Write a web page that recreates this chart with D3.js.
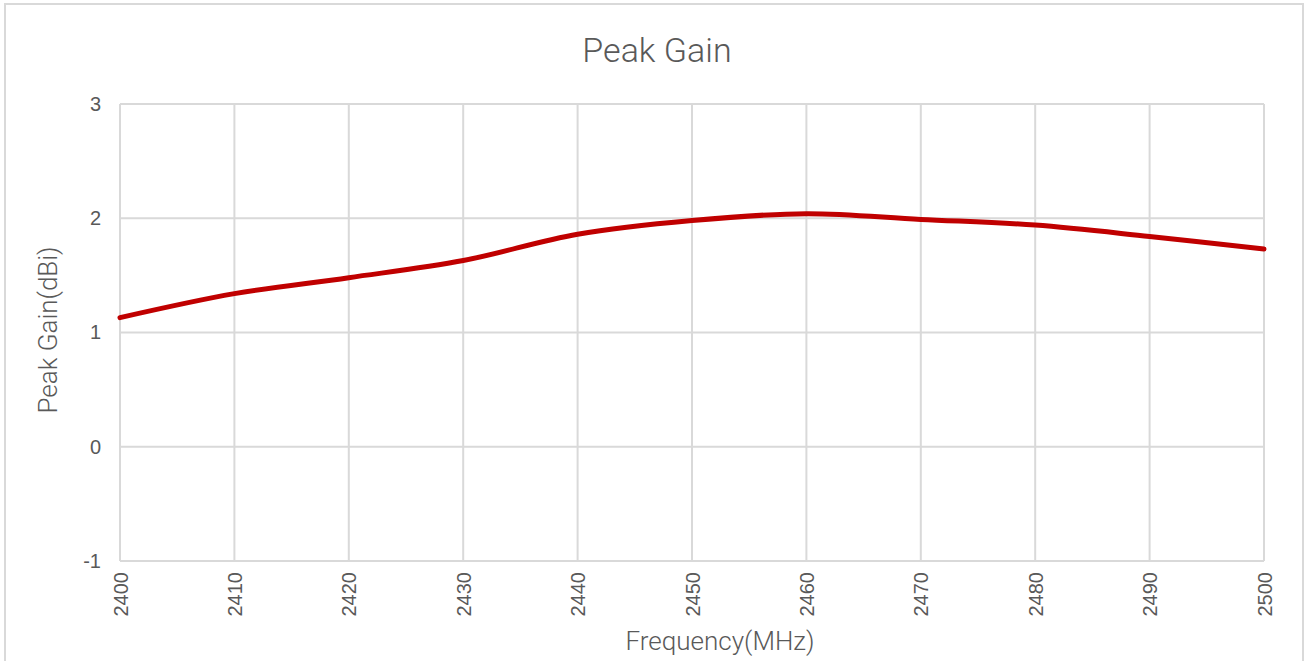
<!DOCTYPE html>
<html>
<head>
  <meta charset="utf-8">
  <title>Peak Gain</title>
  <script src="https://d3js.org/d3.v7.min.js"></script>
  <style>
    body { margin: 0; background: #ffffff; }
    svg { display: block; font-family: Roboto, 'Noto Sans', sans-serif; font-weight: 300; }
    .grid line { stroke: #d9d9d9; stroke-width: 2px; }
    .axis text { fill: #595959; font-size: 20px; }
    .axis path, .axis line { display: none; }
  </style>
</head>
<body>
  <div id="chart"></div>
  <script>
    // values
    const frequency = [2400, 2410, 2420, 2430, 2440, 2450, 2460, 2470, 2480, 2490, 2500];
    const gain = [1.13, 1.34, 1.48, 1.63, 1.86, 1.98, 2.04, 1.99, 1.94, 1.84, 1.73];
    const yTicks = [-1, 0, 1, 2, 3];

    const W = 1309, H = 661;
    const margin = { top: 104, right: 45, bottom: 100, left: 120 };
    const width = 1264 - margin.left;
    const height = 561 - margin.top;

    const svg = d3.select("#chart").append("svg")
      .attr("width", W)
      .attr("height", H);

    // chart border
    svg.append("rect")
      .attr("x", 5).attr("y", 4)
      .attr("width", 1298).attr("height", 680)
      .attr("fill", "#ffffff")
      .attr("stroke", "#d9d9d9")
      .attr("stroke-width", 2);

    const g = svg.append("g")
      .attr("transform", `translate(${margin.left}, ${margin.top})`);

    const x = d3.scaleLinear().domain([2400, 2500]).range([0, width]);
    const y = d3.scaleLinear().domain([-1, 3]).range([height, 0]);

    // gridlines
    const grid = g.append("g").attr("class", "grid");
    grid.selectAll(".h").data(yTicks).join("line")
      .attr("x1", 0).attr("x2", width)
      .attr("y1", d => y(d)).attr("y2", d => y(d));
    grid.selectAll(".v").data(frequency).join("line")
      .attr("x1", d => x(d)).attr("x2", d => x(d))
      .attr("y1", 0).attr("y2", height);

    // y axis
    g.append("g")
      .attr("class", "axis")
      .call(d3.axisLeft(y).tickValues(yTicks).tickSize(0).tickPadding(19).tickFormat(d => String(d)));

    // x axis, labels rotated
    g.append("g")
      .attr("class", "axis")
      .attr("transform", `translate(0, ${height})`)
      .call(d3.axisBottom(x).tickValues(frequency).tickSize(0).tickFormat(d => String(d)))
      .selectAll("text")
      .attr("transform", "rotate(-90)")
      .attr("x", -11)
      .attr("y", 0)
      .attr("dy", "0.35em")
      .style("text-anchor", "end");

    // line
    const line = d3.line()
      .x((d, i) => x(frequency[i]))
      .y(d => y(d))
      .curve(d3.curveCatmullRom.alpha(0.5));

    g.append("path")
      .datum(gain)
      .attr("fill", "none")
      .attr("stroke", "#c00000")
      .attr("stroke-width", 5)
      .attr("stroke-linecap", "round")
      .attr("d", line);

    // title
    svg.append("text")
      .attr("x", 657).attr("y", 62)
      .attr("text-anchor", "middle")
      .attr("fill", "#595959")
      .style("font-size", "34px")
      .text("Peak Gain");

    // axis titles
    svg.append("text")
      .attr("x", 720).attr("y", 650)
      .attr("text-anchor", "middle")
      .attr("fill", "#595959")
      .style("font-size", "26px")
      .text("Frequency(MHz)");

    svg.append("text")
      .attr("transform", "translate(57, 330) rotate(-90)")
      .attr("text-anchor", "middle")
      .attr("fill", "#595959")
      .style("font-size", "26px")
      .text("Peak Gain(dBi)");
  </script>
</body>
</html>
